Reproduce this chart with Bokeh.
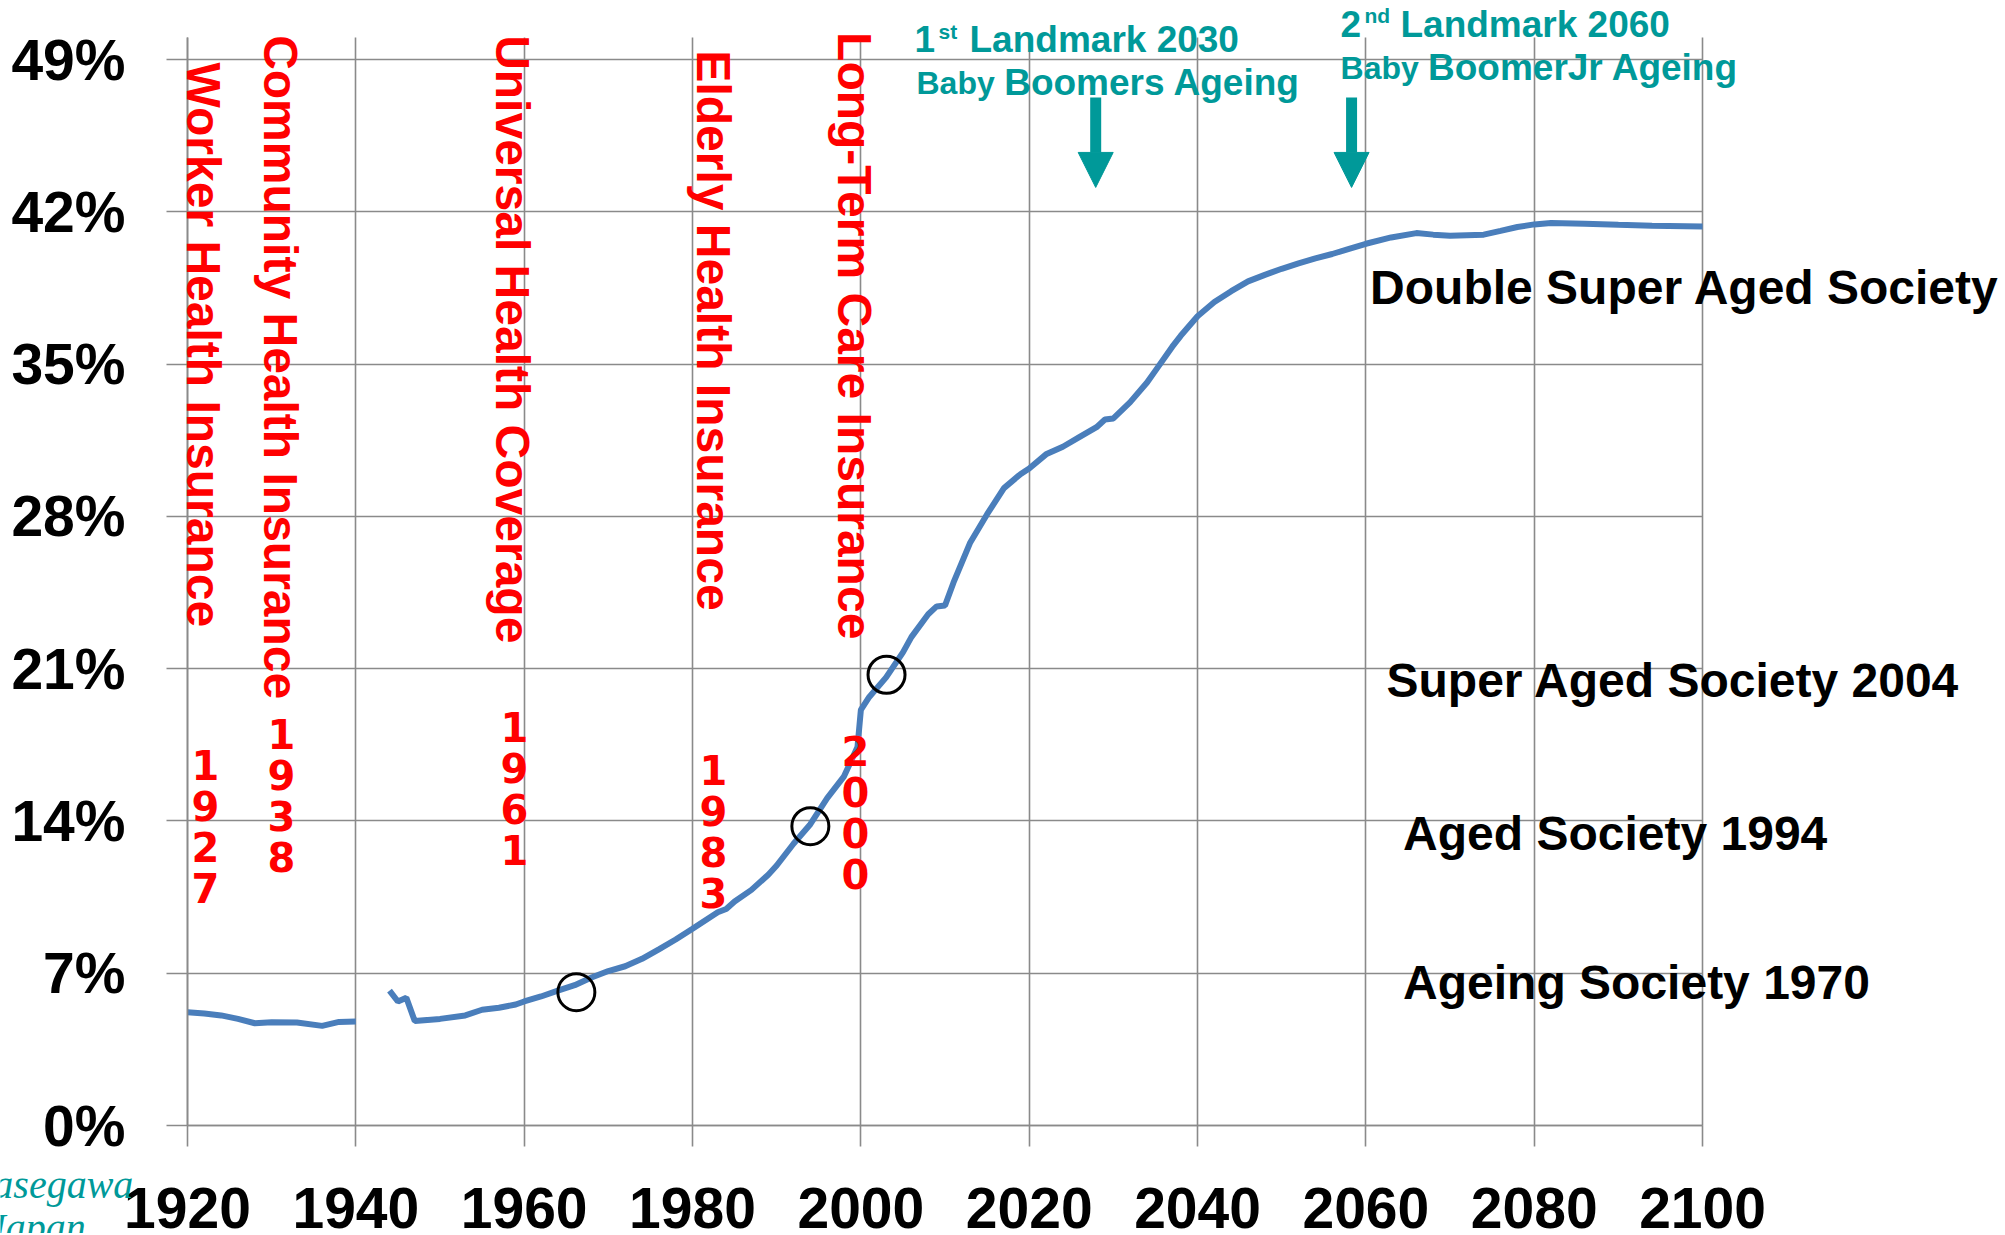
from bokeh.plotting import figure
from bokeh.models import Range1d, FixedTicker, PrintfTickFormatter, Label, Arrow, NormalHead
from bokeh.embed import file_html
from bokeh.resources import INLINE

# ---------------- data ----------------
years = [1920, 1922, 1924, 1926, 1928, 1930, 1933, 1936, 1938, 1940,
         1942,
         1944, 1945, 1946, 1947, 1950, 1953, 1955, 1957, 1959, 1960,
         1962, 1964, 1966, 1968, 1970, 1972, 1974, 1976, 1978, 1980,
         1982, 1983, 1984, 1985, 1987, 1989, 1990, 1992, 1994, 1996,
         1998, 1999.6, 2000, 2001, 2003, 2005, 2006, 2008, 2009, 2010,
         2011, 2013, 2015, 2017, 2019, 2020, 2022, 2024, 2026, 2028,
         2029, 2030, 2032, 2034, 2035, 2037, 2038, 2040, 2042, 2044,
         2046, 2048, 2050, 2052, 2054, 2056, 2058, 2060, 2063, 2066,
         2068, 2070, 2074, 2076, 2078, 2080, 2082, 2086, 2090, 2094, 2100]
aged_pct = [5.21, 5.15, 5.06, 4.90, 4.70, 4.75, 4.73, 4.58, 4.76, 4.78,
            float("nan"),
            6.20, 5.70, 5.87, 4.80, 4.90, 5.06, 5.32, 5.41, 5.56, 5.70,
            5.93, 6.20, 6.45, 6.80, 7.10, 7.32, 7.66, 8.10, 8.55, 9.04,
            9.55, 9.80, 9.95, 10.30, 10.83, 11.53, 11.95, 12.95, 13.85, 15.05,
            16.05, 17.40, 19.10, 19.70, 20.60, 21.75, 22.45, 23.50, 23.86, 23.90,
            24.95, 26.80, 28.10, 29.30, 29.95, 30.20, 30.85, 31.20, 31.65, 32.10,
            32.45, 32.50, 33.25, 34.15, 34.70, 35.80, 36.30, 37.20, 37.85, 38.35,
            38.80, 39.10, 39.38, 39.63, 39.86, 40.06, 40.30, 40.53, 40.82, 41.02,
            40.95, 40.90, 40.95, 41.12, 41.30, 41.42, 41.48, 41.45, 41.40, 41.36, 41.32]

circle_years = [1966.2, 1994.0, 2003.05]
circle_pct = [6.13, 13.76, 20.72]

x_ticks = [1920, 1940, 1960, 1980, 2000, 2020, 2040, 2060, 2080, 2100]
y_ticks = [0, 7, 14, 21, 28, 35, 42, 49]

RED = "#ff0000"
TEAL = "#009999"
GRID = "#8a8a8a"
BLUE = "#4a7ebb"

# ---------------- layout: the frame fills the whole canvas ----------------
W, H = 2000, 1233
PX_PER_YEAR = 8.417
PX_PER_PCT = 21.755
LEFT_PX = 187          # canvas x of the year 1920
ZERO_PX = 1125         # canvas y of 0 %
x0 = 1920 - LEFT_PX / PX_PER_YEAR
x1 = x0 + W / PX_PER_YEAR
y1 = ZERO_PX / PX_PER_PCT
y0 = y1 - H / PX_PER_PCT

p = figure(width=W, height=H,
           x_range=Range1d(x0, x1), y_range=Range1d(y0, y1),
           output_backend="svg", toolbar_location=None, min_border=0)
p.outline_line_color = None
p.background_fill_color = "white"
p.border_fill_color = "white"

# grid
p.xgrid.ticker = FixedTicker(ticks=x_ticks)
p.ygrid.ticker = FixedTicker(ticks=y_ticks)
p.xgrid.cross_bounds = (0, 50)
p.ygrid.cross_bounds = (1920, 2100)
for g in (p.xgrid, p.ygrid):
    g.grid_line_color = GRID
    g.grid_line_width = 1.6

# axes (fixed in the data space)
AXFONT = "Liberation Sans"
p.xaxis.ticker = FixedTicker(ticks=x_ticks)
p.yaxis.ticker = FixedTicker(ticks=y_ticks)
p.yaxis.formatter = PrintfTickFormatter(format="%d%%")
p.xaxis.fixed_location = 0
p.yaxis.fixed_location = 1920
p.xaxis.bounds = (1920, 2100)
p.yaxis.bounds = (0, 50)
for ax in (p.xaxis[0], p.yaxis[0]):
    ax.axis_line_color = GRID
    ax.axis_line_width = 1.6
    ax.major_tick_line_color = GRID
    ax.major_tick_line_width = 1.6
    ax.major_tick_in = 0
    ax.major_tick_out = 21
    ax.minor_tick_line_color = None
    ax.major_label_text_font = AXFONT
    ax.major_label_text_font_style = "bold"
    ax.major_label_text_color = "black"
p.xaxis.major_label_text_font_size = "57px"
p.xaxis.major_label_standoff = 41
p.yaxis.major_label_text_font_size = "57px"
p.yaxis.major_label_standoff = 41

# data line and markers
p.line(years, aged_pct, line_color=BLUE, line_width=6)
p.scatter(circle_years, circle_pct, marker="circle", size=37,
          fill_color=None, line_color="black", line_width=3)


def label(x, y, text, size, color, style="bold", font="Liberation Sans",
          angle=0, align="left", baseline="alphabetic", line_height=1.2):
    p.add_layout(Label(x=x, y=y, text=text, angle=angle, angle_units="deg",
                       text_font=font, text_font_size=f"{size}px",
                       text_font_style=style, text_color=color,
                       text_align=align, text_baseline=baseline,
                       text_line_height=line_height))


# red vertical policy labels
for x, y, t in [(1921.96, 48.86, "Worker Health Insurance"),
                (1931.04, 50.12, "Community Health Insurance"),
                (1958.62, 50.12, "Universal Health Coverage"),
                (1982.50, 49.42, "Elderly Health Insurance"),
                (1999.26, 50.26, "Long-Term Care Insurance")]:
    label(x, y, t, 48, RED, angle=-90)

# red stacked years
for x, y, t in [(1922.14, 17.56, "1927"), (1931.17, 18.99, "1938"),
                (1958.85, 19.31, "1961"), (1982.49, 17.34, "1983"),
                (1999.36, 18.21, "2000")]:
    label(x, y, "\n".join(t), 40, RED, font="DejaVu Sans", style="bold",
          align="center", baseline="top", line_height=0.89)

# black society labels
label(2060.5, 38.51, "Double Super Aged Society", 48, "black")
label(2062.45, 20.46, "Super Aged Society 2004", 48, "black")
label(2064.42, 13.44, "Aged Society 1994", 48, "black")
label(2064.42, 6.56, "Ageing Society 1970", 48, "black")

# teal landmark texts
label(2006.37, 49.94, "1", 37, TEAL)
label(2009.22, 50.31, "st", 21, TEAL)
label(2012.91, 49.94, "Landmark 2030", 37, TEAL)
label(2006.61, 47.90, "Baby", 32, TEAL)
label(2017.03, 47.96, "Boomers Ageing", 37, TEAL)

label(2056.99, 50.63, "2", 37, TEAL)
label(2059.84, 51.02, "nd", 21, TEAL)
label(2064.11, 50.63, "Landmark 2060", 37, TEAL)
label(2056.99, 48.59, "Baby", 32, TEAL)
label(2067.38, 48.65, "BoomerJr Ageing", 37, TEAL)

# teal arrows
for ax_x in (2027.9, 2058.3):
    p.add_layout(Arrow(x_start=ax_x, y_start=47.25, x_end=ax_x, y_end=43.12,
                       line_color=TEAL, line_width=11,
                       end=NormalHead(size=35, fill_color=TEAL,
                                      line_color=TEAL, line_width=1)))

# author credit (partly cut off at the page edge, as in the original)
label(1893.5, -2.71, "Hasegawa", 40, TEAL, style="italic", font="Liberation Serif")
label(1896.3, -4.69, "Japan", 40, TEAL, style="italic", font="Liberation Serif")

open("out.html", "w").write(file_html(p, INLINE))
